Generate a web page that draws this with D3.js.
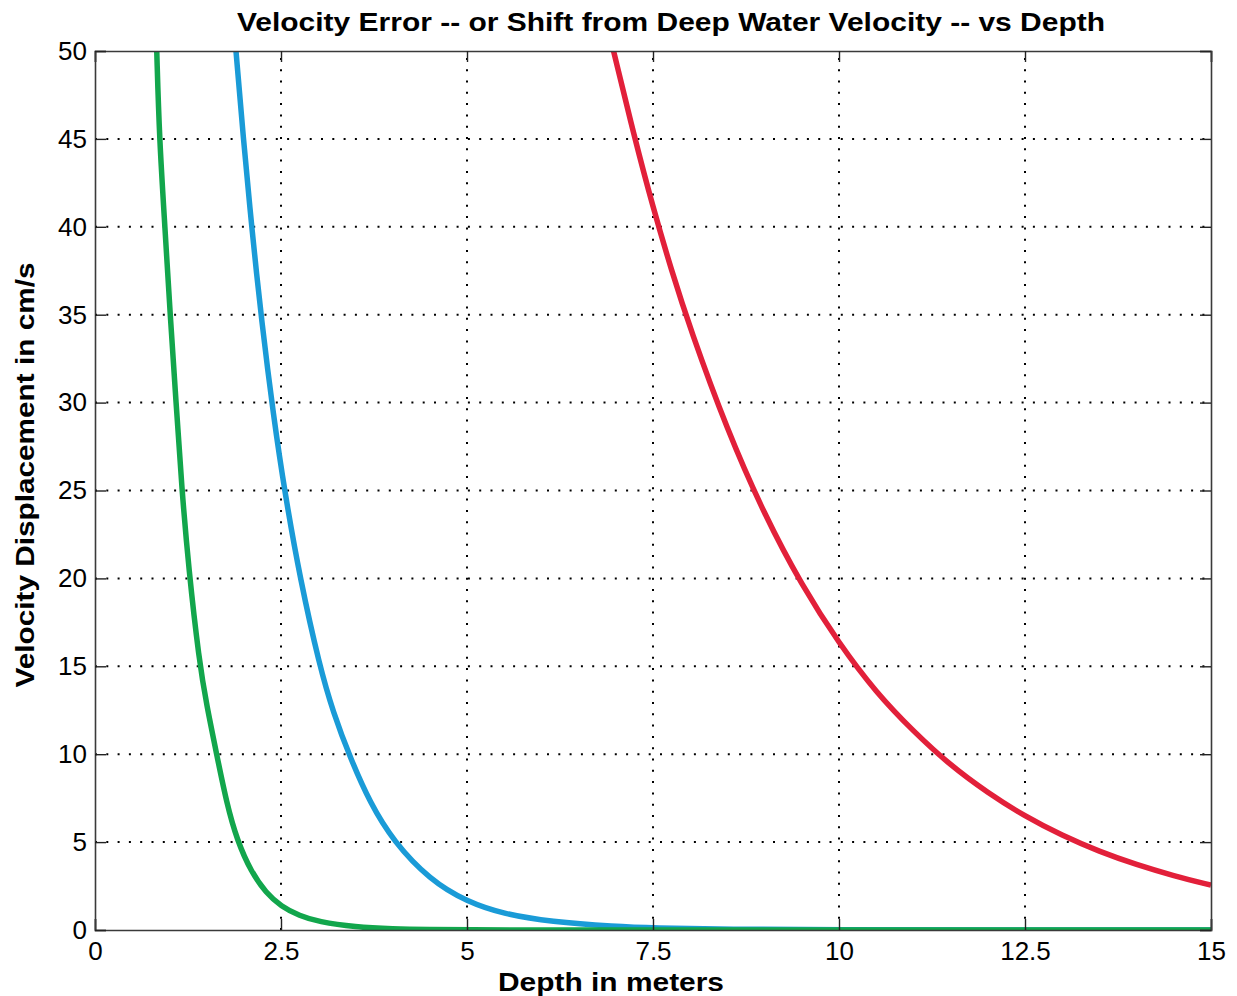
<!DOCTYPE html>
<html>
<head>
<meta charset="utf-8">
<script src="https://cdn.jsdelivr.net/npm/d3@7"></script>
<style>
  html, body { margin: 0; padding: 0; background: #fff; }
  svg { display: block; font-family: "Liberation Sans", Arial, Helvetica, sans-serif; }
</style>
</head>
<body>
<svg id="chart" width="1237" height="996"></svg>
<script>
// ---- Data ----
const xTicks = [0, 2.5, 5, 7.5, 10, 12.5, 15];
const xTickLabels = ["0", "2.5", "5", "7.5", "10", "12.5", "15"];
const yTicks = [0, 5, 10, 15, 20, 25, 30, 35, 40, 45, 50];
const yTickLabels = ["0", "5", "10", "15", "20", "25", "30", "35", "40", "45", "50"];

const greenDepth = [0.83, 0.865, 0.94, 1.01, 1.09, 1.165, 1.26, 1.40, 1.5, 1.635, 1.77, 1.91, 2.1, 2.3, 2.5, 2.75, 3.0, 3.5, 4.0, 4.5, 5.0, 6.0, 15.0];
const greenShift = [50, 45, 40, 35, 30, 25.2, 20.5, 15.3, 12.8, 10, 7.2, 5.1, 3.3, 2.1, 1.35, 0.8, 0.47, 0.16, 0.055, 0.02, 0.007, 0.001, 0];

const blueDepth = [1.895, 1.99, 2.11, 2.24, 2.40, 2.55, 2.76, 3.02, 3.2, 3.43, 3.7, 4.01, 4.5, 5.0, 5.5, 6.12, 7.0, 7.5, 8.5, 10.0, 12.0, 15.0];
const blueShift = [50, 45.2, 39.8, 34.6, 29.2, 24.9, 19.9, 15.0, 12.4, 9.8, 7.2, 5.05, 2.85, 1.6, 0.9, 0.47, 0.19, 0.11, 0.04, 0.008, 0.001, 0];

const redDepth = [6.97, 7.25, 7.5, 7.75, 8.0, 8.5, 9.0, 9.5, 10.0, 10.5, 11.0, 11.5, 12.0, 12.5, 13.0, 13.5, 14.0, 14.5, 15.0];
const redShift = [50, 45.1, 41.1, 37.5, 34.2, 28.4, 23.6, 19.6, 16.3, 13.5, 11.3, 9.35, 7.8, 6.46, 5.37, 4.46, 3.71, 3.08, 2.55];

const seriesNames = ["blue", "green", "red"];
const seriesColors = {blue: "#1a9bd7", green: "#12a64c", red: "#e2203a"};

// ---- Layout ----
const margin = {left: 95, top: 51, right: 1237 - 1211, bottom: 996 - 930};
const W = 1237, H = 996;
const svg = d3.select("#chart");

const x = d3.scaleLinear().domain([0, 15]).range([margin.left, W - margin.right]);
const y = d3.scaleLinear().domain([0, 50]).range([H - margin.bottom, margin.top]);

const x0 = x.range()[0], x1 = x.range()[1], y0 = y.range()[0], y1 = y.range()[1];

// grid
const grid = svg.append("g").attr("class", "grid");
grid.selectAll("line.vg").data(xTicks.slice(1, -1)).join("line")
  .attr("x1", d => x(d)).attr("x2", d => x(d))
  .attr("y1", y0).attr("y2", y1)
  .attr("stroke", "#000").attr("stroke-width", 2)
  .attr("stroke-dasharray", "2,9.3");
grid.selectAll("line.hg").data(yTicks.slice(1, -1)).join("line")
  .attr("y1", d => y(d)).attr("y2", d => y(d))
  .attr("x1", x0).attr("x2", x1)
  .attr("stroke", "#000").attr("stroke-width", 2)
  .attr("stroke-dasharray", "2,9.3");

// axes (inward ticks) using d3 axes
const tickLen = 11;
const xAxisB = d3.axisBottom(x).tickValues(xTicks).tickFormat((d, i) => xTickLabels[i]).tickSize(-tickLen).tickPadding(12);
const xAxisT = d3.axisTop(x).tickValues(xTicks).tickFormat("").tickSize(-tickLen);
const yAxisL = d3.axisLeft(y).tickValues(yTicks).tickFormat((d, i) => yTickLabels[i]).tickSize(-tickLen).tickPadding(8);
const yAxisR = d3.axisRight(y).tickValues(yTicks).tickFormat("").tickSize(-tickLen);

function styleAxis(g) {
  g.select(".domain").attr("stroke", "#3a3a3a").attr("stroke-width", 1.6);
  g.selectAll(".tick line").attr("stroke", "#222").attr("stroke-width", 1.4);
  g.selectAll(".tick text").attr("fill", "#000").attr("font-size", 26)
    .attr("font-family", "'Liberation Sans', Arial, sans-serif");
}

// lines
svg.append("clipPath").attr("id", "plotclip").append("rect")
  .attr("x", x0).attr("y", y1).attr("width", x1 - x0).attr("height", y0 - y1);

const line = d3.line().x(d => x(d[0])).y(d => y(d[1])).curve(d3.curveBasis);
const seriesData = {
  blue: d3.zip(blueDepth, blueShift),
  green: d3.zip(greenDepth, greenShift),
  red: d3.zip(redDepth, redShift)
};
const lines = svg.append("g").attr("clip-path", "url(#plotclip)");
seriesNames.forEach(n => {
  lines.append("path").datum(seriesData[n])
    .attr("d", line).attr("fill", "none")
    .attr("stroke", seriesColors[n]).attr("stroke-width", 5.5)
    .attr("stroke-linejoin", "round").attr("stroke-linecap", "butt");
});

svg.append("g").attr("transform", `translate(0,${y0})`).call(xAxisB).call(styleAxis);
svg.append("g").attr("transform", `translate(0,${y1})`).call(xAxisT).call(styleAxis);
svg.append("g").attr("transform", `translate(${x0},0)`).call(yAxisL).call(styleAxis);
svg.append("g").attr("transform", `translate(${x1},0)`).call(yAxisR).call(styleAxis);

// title & labels
svg.append("text").attr("x", 671).attr("y", 31)
  .attr("text-anchor", "middle").attr("font-weight", "bold").attr("font-size", 26)
  .attr("textLength", 868).attr("lengthAdjust", "spacingAndGlyphs")
  .text("Velocity Error -- or Shift from Deep Water Velocity -- vs Depth");

svg.append("text").attr("x", 611).attr("y", 991)
  .attr("text-anchor", "middle").attr("font-weight", "bold").attr("font-size", 25)
  .attr("textLength", 226).attr("lengthAdjust", "spacingAndGlyphs")
  .text("Depth in meters");

svg.append("text").attr("transform", "translate(34,475) rotate(-90)")
  .attr("text-anchor", "middle").attr("font-weight", "bold").attr("font-size", 26)
  .attr("textLength", 425).attr("lengthAdjust", "spacingAndGlyphs")
  .text("Velocity Displacement in cm/s");
</script>
</body>
</html>
